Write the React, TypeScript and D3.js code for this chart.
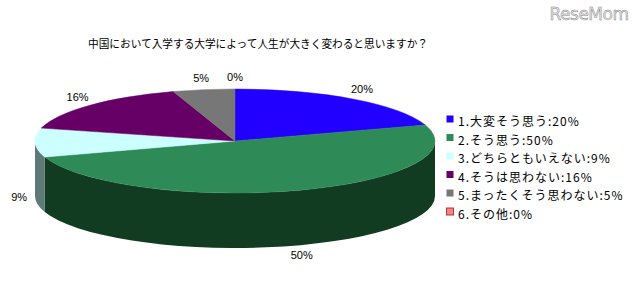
import React from "react";
import * as d3 from "d3";

const title = "中国において入学する大学によって人生が大きく変わると思いますか？";
const categories = [
  "1.大変そう思う",
  "2.そう思う",
  "3.どちらともいえない",
  "4.そうは思わない",
  "5.まったくそう思わない",
  "6.その他",
];
const values = [20, 50, 9, 16, 5, 0];
const topColors = ["#2200ff", "#2e8b57", "#ccffff", "#660066", "#777777", "#ff8080"];
const sideColors = ["#12008a", "#123c22", "#5f7878", "#330033", "#444444", "#804040"];

const W = 635;
const H = 281;
const cx = 235;
const cy = 141;
const rx = 200;
const ry = 52;
const depth = 55;

// project an angle (clockwise from 12 o'clock) onto the ellipse
const pt = (a: number, dy = 0): [number, number] => [cx + rx * Math.sin(a), cy - ry * Math.cos(a) + dy];

export default function App() {
  const total = d3.sum(values);
  const arcs = d3
    .pie<number>()
    .sort(null)
    .value((d) => d)(values);

  const slices = arcs.map((a, i) => ({ ...a, i }));

  // side walls: only the front half (π/2 .. 3π/2) is visible
  const sides = slices
    .map((s) => {
      const a0 = Math.max(s.startAngle, Math.PI / 2);
      const a1 = Math.min(s.endAngle, (3 * Math.PI) / 2);
      if (a1 <= a0) return null;
      const [x0, y0] = pt(a0);
      const [x1, y1] = pt(a1);
      const d = `M${x0},${y0} A${rx},${ry} 0 0 1 ${x1},${y1} L${x1},${y1 + depth} A${rx},${ry} 0 0 0 ${x0},${y0 + depth} Z`;
      return { d, i: s.i };
    })
    .filter(Boolean) as { d: string; i: number }[];

  const tops = slices
    .filter((s) => s.endAngle > s.startAngle)
    .map((s) => {
      const [x0, y0] = pt(s.startAngle);
      const [x1, y1] = pt(s.endAngle);
      const large = s.endAngle - s.startAngle > Math.PI ? 1 : 0;
      return { d: `M${cx},${cy} L${x0},${y0} A${rx},${ry} 0 ${large} 1 ${x1},${y1} Z`, i: s.i };
    });

  const labels = slices.map((s) => {
    const m = (s.startAngle + s.endAngle) / 2;
    const front = -Math.cos(m) > 0;
    const x = cx + 216 * Math.sin(m);
    const y = cy - 63 * Math.cos(m) + (front ? depth : 0);
    return { x, y, text: `${Math.round((values[s.i] / total) * 100)}%` };
  });

  const legendY = d3.scaleLinear().domain([0, 1]).range([123, 141.5]);

  return (
    <svg
      width={W}
      height={H}
      style={{ position: "absolute", left: 0, top: 0, background: "#fff" }}
    >
      <rect width={W} height={H} fill="#fff" />
      <text
        x={589}
        y={20}
        textAnchor="middle"
        fontFamily="'DejaVu Sans', sans-serif"
        fontSize={17}
        fill="#e6e6e6"
        stroke="#8a8a8a"
        strokeWidth={0.5}
        letterSpacing={-0.5}
      >
        ReseMom
      </text>
      <text
        x={258}
        y={48}
        textAnchor="middle"
        fontFamily="'Noto Sans CJK JP', sans-serif"
        fontSize={11.5}
        textLength={340}
        lengthAdjust="spacingAndGlyphs"
        fill="#000"
      >
        {title}
      </text>
      {sides.map((s) => (
        <path key={`s${s.i}`} d={s.d} fill={sideColors[s.i]} />
      ))}
      {tops.map((t) => (
        <path key={`t${t.i}`} d={t.d} fill={topColors[t.i]} stroke={topColors[t.i]} strokeWidth={0.5} />
      ))}
      {labels.map((l, i) => (
        <text
          key={`l${i}`}
          x={l.x}
          y={l.y}
          textAnchor="middle"
          dominantBaseline="middle"
          fontFamily="'Liberation Sans', Arial, sans-serif"
          fontSize={11}
          fill="#000"
        >
          {l.text}
        </text>
      ))}
      {categories.map((c, i) => (
        <g key={`g${i}`}>
          <rect
            x={446.5}
            y={legendY(i) - 7.5}
            width={7}
            height={7}
            fill={topColors[i]}
            stroke={i === 5 ? "#a04040" : "none"}
            strokeWidth={1}
          />
          <text
            x={458}
            y={legendY(i)}
            dominantBaseline="middle"
            fontFamily="'Noto Sans CJK JP', sans-serif"
            fontSize={12}
            letterSpacing={1}
            fill="#000"
          >
            {`${c}:${values[i]}%`}
          </text>
        </g>
      ))}
    </svg>
  );
}
